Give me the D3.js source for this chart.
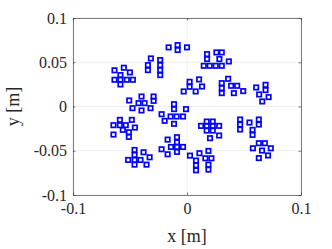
<!DOCTYPE html>
<html>
<head>
<meta charset="utf-8">
<script src="https://cdn.jsdelivr.net/npm/d3@7"></script>
<style>
  body { margin: 0; background: #fff; }
  svg { display: block; }
  .tick text { font-family: "Liberation Serif", "DejaVu Serif", serif; font-size: 16px; fill: #262626; }
  .label { font-family: "Liberation Serif", "DejaVu Serif", serif; font-size: 18px; fill: #262626; }
</style>
</head>
<body>
<div id="chart"></div>
<script>
// positions, one pair of arrays per cluster
var clusterX = [
    [-0.0636,-0.0554,-0.0501,-0.0584,-0.0636,-0.0584,-0.0528,-0.0475,-0.0584],
    [-0.0317,-0.0343,-0.0343,-0.0235,-0.0235,-0.0235,-0.0235],
    [-0.0161,-0.0082,-0.0082,0.0],
    [0.0176,0.0176,0.0258,0.0305,0.0284,0.0367,0.0147,0.0199,0.0252,0.0305],
    [0.0023,0.0106,0.0023,0.0132,-0.0029,0.0076],
    [0.0361,0.0305,0.0305,0.0305,0.0387,0.0440,0.0411,0.0493],
    [0.0607,0.0689,0.0689,0.0633,0.0716,0.0660],
    [-0.0507,-0.0399,-0.0293,-0.0293,-0.0425,-0.0372,-0.0478,-0.0399,-0.0320],
    [-0.0114,-0.0114,-0.0009,-0.0223,-0.0144,-0.0091,-0.0035,-0.0196,-0.0114],
    [-0.0589,-0.0484,-0.0645,-0.0589,-0.0537,-0.0457,-0.0563,-0.0510,-0.0645,-0.0510],
    [0.0173,0.0226,0.0123,0.0173,0.0226,0.0282,0.0173,0.0226,0.0282,0.0202],
    [0.0466,0.0466,0.0466,0.0548,0.0630,0.0630,0.0575,0.0575],
    [-0.0460,-0.0460,-0.0381,-0.0328,-0.0516,-0.0460,-0.0408,-0.0460,-0.0355],
    [-0.0170,-0.0088,-0.0088,-0.0223,-0.0141,-0.0088,-0.0035,-0.0170,-0.0088],
    [0.0026,0.0109,0.0188,0.0079,0.0079,0.0079,0.0161,0.0214,0.0188,0.0188],
    [0.0630,0.0683,0.0578,0.0658,0.0735,0.0630,0.0711]
];
var clusterY = [
    [0.0409,0.0438,0.0385,0.0355,0.0302,0.0302,0.0302,0.0302,0.0249],
    [0.0543,0.0468,0.0411,0.0525,0.0468,0.0411,0.0355],
    [0.0668,0.0694,0.0638,0.0668],
    [0.0592,0.0536,0.0611,0.0611,0.0536,0.0509,0.0460,0.0460,0.0460,0.0460],
    [0.0279,0.0306,0.0223,0.0226,0.0170,0.0170],
    [0.0313,0.0264,0.0208,0.0151,0.0234,0.0234,0.0151,0.0174],
    [0.0215,0.0245,0.0185,0.0136,0.0106,0.0057],
    [0.0068,0.0113,0.0113,0.0064,0.0038,0.0038,-0.0019,-0.0045,-0.0019],
    [0.0026,-0.0030,-0.0030,-0.0087,-0.0113,-0.0113,-0.0113,-0.0162,-0.0196],
    [-0.0151,-0.0151,-0.0211,-0.0211,-0.0211,-0.0238,-0.0264,-0.0291,-0.0317,-0.0343],
    [-0.0170,-0.0170,-0.0219,-0.0219,-0.0219,-0.0219,-0.0272,-0.0272,-0.0328,-0.0358],
    [-0.0147,-0.0204,-0.0260,-0.0181,-0.0147,-0.0204,-0.0264,-0.0321],
    [-0.0491,-0.0547,-0.0517,-0.0574,-0.0604,-0.0604,-0.0604,-0.0657,-0.0657],
    [-0.0374,-0.0347,-0.0404,-0.0483,-0.0457,-0.0457,-0.0457,-0.0540,-0.0513],
    [-0.0555,-0.0528,-0.0502,-0.0611,-0.0664,-0.0721,-0.0585,-0.0585,-0.0657,-0.0713],
    [-0.0415,-0.0415,-0.0472,-0.0498,-0.0472,-0.0583,-0.0553]
];
var xTicks = [-0.1, 0, 0.1];
var yTicks = [-0.1, -0.05, 0, 0.05, 0.1];

var width = 332, height = 249;
var margin = {top: 18, right: 31, bottom: 54, left: 73};
var w = width - margin.left - margin.right,
    h = height - margin.top - margin.bottom;

var x = d3.scaleLinear().domain([-0.1, 0.1]).range([0, w]);
var y = d3.scaleLinear().domain([-0.1, 0.1]).range([h, 0]);

var points = [];
clusterX.forEach(function(xs, i) {
    xs.forEach(function(v, j) {
        points.push({x: v, y: clusterY[i][j]});
    });
});

var svg = d3.select("#chart").append("svg")
    .attr("width", width)
    .attr("height", height);

var g = svg.append("g")
    .attr("transform", "translate(" + margin.left + "," + margin.top + ")");

// grid
g.append("g").selectAll("line")
    .data(xTicks)
    .enter()
    .append("line")
    .attr("x1", function(d){ return x(d); })
    .attr("x2", function(d){ return x(d); })
    .attr("y1", 0).attr("y2", h)
    .attr("stroke", "#e6e6e6").attr("stroke-width", 0.6);

g.append("g").selectAll("line")
    .data(yTicks)
    .enter()
    .append("line")
    .attr("y1", function(d){ return y(d); })
    .attr("y2", function(d){ return y(d); })
    .attr("x1", 0).attr("x2", w)
    .attr("stroke", "#e6e6e6").attr("stroke-width", 0.6);

var fmt = function(d){ return d === 0 ? "0" : String(d); };

g.append("g")
    .attr("transform", "translate(0," + h + ")")
    .call(d3.axisBottom(x).tickValues(xTicks).tickFormat(fmt).tickSizeInner(-2.5).tickSizeOuter(0).tickPadding(8));

g.append("g")
    .call(d3.axisLeft(y).tickValues(yTicks).tickFormat(fmt).tickSizeInner(-2.5).tickSizeOuter(0).tickPadding(6));

g.append("g")
    .call(d3.axisTop(x).tickValues(xTicks).tickFormat("").tickSizeInner(-2.5).tickSizeOuter(0));
g.append("g")
    .attr("transform", "translate(" + w + ",0)")
    .call(d3.axisRight(y).tickValues(yTicks).tickFormat("").tickSizeInner(-2.5).tickSizeOuter(0));

g.selectAll(".domain").attr("stroke", "#262626").attr("stroke-width", 0.6);
g.selectAll(".tick line").attr("stroke", "#262626").attr("stroke-width", 0.6);

// markers
g.append("g")
    .selectAll("rect")
    .data(points)
    .enter()
    .append("rect")
    .attr("x", function(d){ return x(d.x) - 2.2; })
    .attr("y", function(d){ return y(d.y) - 2.2; })
    .attr("width", 4.4)
    .attr("height", 4.4)
    .attr("fill", "none")
    .attr("stroke", "#0000ff")
    .attr("stroke-width", 1.7);

// labels
svg.append("text")
    .attr("class", "label")
    .attr("x", margin.left + w / 2)
    .attr("y", 242)
    .attr("text-anchor", "middle")
    .text("x [m]");

svg.append("text")
    .attr("class", "label")
    .attr("transform", "translate(19," + (margin.top + h / 2) + ") rotate(-90)")
    .attr("text-anchor", "middle")
    .text("y [m]");
</script>
</body>
</html>
